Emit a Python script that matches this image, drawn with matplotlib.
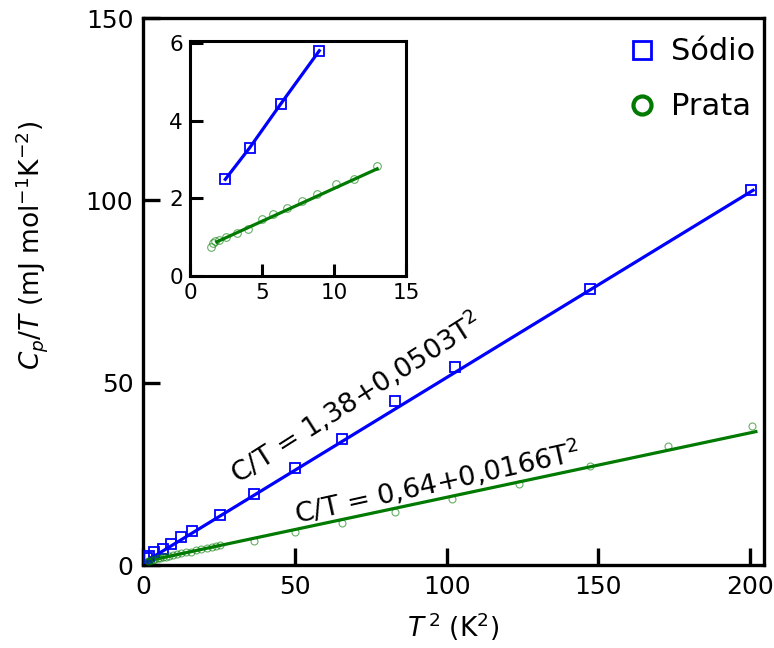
import matplotlib
matplotlib.use("Agg")
import matplotlib.pyplot as plt
from matplotlib.lines import Line2D

plt.rcParams['font.family'] = ['DejaVu Sans']
plt.rcParams['mathtext.fontset'] = 'dejavusans'

BLUE = '#0000FF'
GREEN = '#007A00'

# ---- main panel data ----
na_T2 = [1.4, 2.1, 3.6, 6.5, 9.1, 12.4, 16.2, 25.4, 36.7, 50.2, 65.5, 82.9, 102.8, 147.3, 200.2]
na_CT = [1.8, 2.5, 3.5, 4.5, 5.9, 7.6, 9.3, 13.7, 19.5, 26.7, 34.7, 45.1, 54.4, 75.6, 102.8]
na_fit_T2 = [0.7, 201.0]
na_fit_CT = [0.9, 102.8]

ag_T2 = [1.5, 2.0, 2.6, 3.2, 4.0, 4.8, 5.7, 6.6, 7.6, 8.7, 9.9, 11.2, 12.6, 14.1,
         15.7, 17.4, 19.2, 21.0, 22.8, 24.2, 25.5, 36.7, 50.2, 65.5, 82.9, 101.9,
         123.8, 147.3, 172.8, 200.5]
ag_CT = [1.0, 1.2, 1.3, 1.45, 1.6, 1.8, 2.0, 2.15, 2.3, 2.5, 2.7, 2.95, 3.2, 3.45,
         3.7, 4.0, 4.3, 4.6, 4.9, 5.15, 5.4, 6.67, 9.13, 11.6, 14.6, 18.0,
         22.2, 27.3, 32.6, 38.2]
ag_fit_T2 = [1.2, 201.9]
ag_fit_CT = [1.1, 36.6]

# ---- inset data ----
in_na_x = [2.45, 4.14, 6.3, 8.98]
in_na_y = [2.49, 3.30, 4.43, 5.80]
in_ag_x = [1.48, 1.59, 1.77, 2.0, 2.5, 3.23, 4.05, 5.0, 5.73, 6.73, 7.75, 8.82, 10.14, 11.36, 13.0]
in_ag_y = [0.74, 0.86, 0.91, 0.94, 1.01, 1.12, 1.20, 1.48, 1.61, 1.76, 1.92, 2.11, 2.36, 2.51, 2.82]
in_ag_fit_x = [1.86, 13.0]
in_ag_fit_y = [0.88, 2.76]

legend_labels = ['Sódio', 'Prata']
label_na = 'C/T = 1,38+0,0503T$^2$'
label_ag = 'C/T = 0,64+0,0166T$^2$'

fig = plt.figure(figsize=(7.74, 6.48), dpi=100)
ax = fig.add_axes([0.1848, 0.128, 0.802, 0.844])

ax.plot(na_fit_T2, na_fit_CT, color=BLUE, lw=2.3, zorder=2)
ax.plot(ag_fit_T2, ag_fit_CT, color=GREEN, lw=2.3, zorder=2)
ax.plot(na_T2, na_CT, ls='none', marker='s', ms=6.5, mfc='none', mec=BLUE, mew=1.3, zorder=3)
ax.plot(ag_T2, ag_CT, ls='none', marker='o', ms=5, mfc='none', mec=GREEN, mew=0.8, alpha=0.6, zorder=3)

ax.set_xlim(0, 204.5)
ax.set_ylim(0, 150)
ax.set_xticks([0, 50, 100, 150, 200])
ax.set_yticks([0, 50, 100, 150])
ax.tick_params(direction='in', length=12, width=2.4, labelsize=18, pad=7,
               top=False, right=False)
for s in ax.spines.values():
    s.set_linewidth(2.4)

ax.set_xlabel(r'$T^{\,2}$ (K$^2$)', fontsize=19)
ax.set_ylabel(r'$C_p/T$ (mJ mol$^{-1}$K$^{-2}$)', fontsize=19)
ax.xaxis.set_label_coords(0.5, -0.083)
ax.yaxis.set_label_coords(-0.15, 0.585)

ax.text(70.2, 45.7, label_na, fontsize=19.5, rotation=32.5, rotation_mode='anchor',
        ha='center', va='center')
ax.text(97.0, 22.6, label_ag, fontsize=19.5, rotation=12.5, rotation_mode='anchor',
        ha='center', va='center')

handles = [Line2D([], [], ls='none', marker='s', ms=13, mfc='none', mec=BLUE, mew=2),
           Line2D([], [], ls='none', marker='o', ms=13, mfc='none', mec=GREEN, mew=3)]
ax.legend(handles, legend_labels, loc='upper right', frameon=False, fontsize=22,
          handletextpad=0.35, labelspacing=0.85, bbox_to_anchor=(1.03, 1.015),
          handlelength=1.2)

# ---- inset ----
ins = fig.add_axes([0.2455, 0.574, 0.279, 0.3627])
ins.plot(in_na_x, in_na_y, color=BLUE, lw=2.3, zorder=2)
ins.plot(in_ag_fit_x, in_ag_fit_y, color=GREEN, lw=2.3, zorder=2)
ins.plot(in_na_x, in_na_y, ls='none', marker='s', ms=7, mfc='none', mec=BLUE, mew=1.3, zorder=3)
ins.plot(in_ag_x, in_ag_y, ls='none', marker='o', ms=5.5, mfc='none', mec=GREEN, mew=0.8, alpha=0.6, zorder=3)
ins.set_xlim(0, 14.7)
ins.set_ylim(0, 6.05)
ins.set_xticks([0, 5, 10, 15])
ins.set_yticks([0, 2, 4, 6])
ins.tick_params(direction='in', length=9, width=2.2, labelsize=15.5, pad=5,
                top=False, right=False)
for s in ins.spines.values():
    s.set_linewidth(2.2)

fig.savefig('out.png', dpi=100)
